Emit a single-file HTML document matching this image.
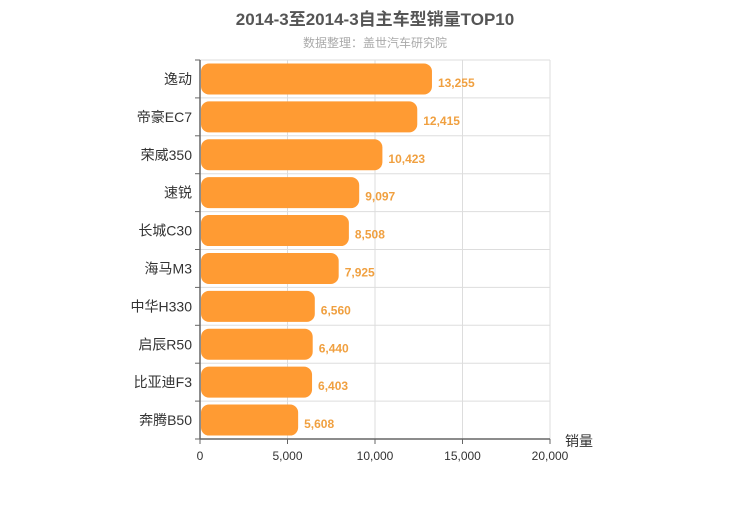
<!DOCTYPE html>
<html><head><meta charset="utf-8"><style>
body{margin:0;background:#fff;}
svg text{font-family:"Liberation Sans","Noto Sans CJK SC",sans-serif;}
</style></head><body>
<svg id="c" width="750" height="500">
<text x="375" y="25" text-anchor="middle" font-size="17" font-weight="bold" fill="#555">2014-3至2014-3自主车型销量TOP10</text>
<text x="375" y="47" text-anchor="middle" font-size="12" fill="#aaa">数据整理：盖世汽车研究院</text>
<g id="grid"></g><g id="bars"></g><g id="axes"></g>
<text x="565" y="446" font-size="14" fill="#333">销量</text>
</svg>
<script>
const categories=["逸动","帝豪EC7","荣威350","速锐","长城C30","海马M3","中华H330","启辰R50","比亚迪F3","奔腾B50"];
const values=[13255,12415,10423,9097,8508,7925,6560,6440,6403,5608];
const ticks=[0,5000,10000,15000,20000];
const ns="http://www.w3.org/2000/svg";
const X0=200,X1=550,Y0=60,Y1=439,MAX=20000;
const x=v=>X0+(v/MAX)*(X1-X0);
const rh=(Y1-Y0)/categories.length;
const y=i=>Y0+i*rh;
function mk(t,a,p){const e=document.createElementNS(ns,t);for(const k in a)e.setAttribute(k,a[k]);p.appendChild(e);return e;}
const grid=document.getElementById('grid'),bars=document.getElementById('bars'),axes=document.getElementById('axes');
ticks.forEach(t=>{
 const g=mk('line',{x1:x(t),x2:x(t),y1:Y0,y2:Y1,stroke:'#ddd'},grid);
 
 
 const tk=mk('line',{x1:x(t),x2:x(t),y1:Y1,y2:Y1+5,stroke:'#666'},axes);
 
 
 const l=mk('text',{x:x(t),y:Y1+21,'text-anchor':'middle','font-size':12,fill:'#333'},axes);
 l.textContent=t.toLocaleString('en-US');
 
 
});
for(let i=0;i<=categories.length;i++){
 const g=mk('line',{x1:X0,x2:X1,y1:y(i),y2:y(i),stroke:'#ddd'},grid);
 
 
 const tk=mk('line',{x1:X0-5,x2:X0,y1:y(i),y2:y(i),stroke:'#666'},axes);
 
 
}
categories.forEach((c,i)=>{
 const cy=y(i)+rh/2;
 const r=mk('rect',{x:X0+1,y:cy-15.5,width:x(values[i])-X0-1,height:31,rx:8,fill:'#ff9b33'},bars);
 
 
 const v=mk('text',{x:x(values[i])+6,y:cy+8,'font-size':12,'font-weight':'bold',fill:'#f0a040'},bars);
 v.textContent=values[i].toLocaleString('en-US');
 
 
 const l=mk('text',{x:X0-8,y:cy+5,'text-anchor':'end','font-size':14,fill:'#333'},axes);
 l.textContent=c;
 
 
});
const ya=mk('line',{x1:X0,x2:X0,y1:Y0,y2:Y1,stroke:'#666','stroke-width':1.5},axes);


const xa=mk('line',{x1:X0,x2:X1,y1:Y1,y2:Y1,stroke:'#666','stroke-width':1.5},axes);


</script>
</body></html>
